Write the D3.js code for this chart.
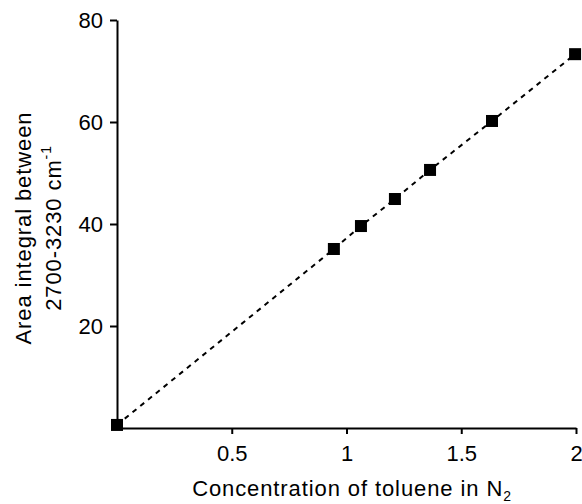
<!DOCTYPE html>
<html>
<head>
<meta charset="utf-8">
<script src="https://cdn.jsdelivr.net/npm/d3@7"></script>
<style>
  body { margin: 0; background: #fff; }
  svg { display: block; font-family: "Liberation Sans", Arial, sans-serif; }
</style>
</head>
<body>
<div class="chart"></div>
<script>
// toluene concentration vs. area integral
let conc = [0, 0.945, 1.063, 1.211, 1.364, 1.634, 1.996];
let area = [0.6, 35.1, 39.6, 44.9, 50.6, 60.2, 73.3];
let xTicks = [0.5, 1, 1.5, 2];
let yTicks = [20, 40, 60, 80];

let data = conc.map((c, i) => ({ x: c, y: area[i] }));

let width = 582, height = 504;
let margin = { top: 20, right: 6, bottom: 76, left: 117 };

let x = d3.scaleLinear().domain([0, 2]).range([margin.left, width - margin.right]);
let y = d3.scaleLinear().domain([0, 80]).range([height - margin.bottom, margin.top]);

let svg = d3.select(".chart").append("svg")
    .attr("width", width)
    .attr("height", height);

// dashed fit line
let line = d3.line().x(d => x(d.x)).y(d => y(d.y));
svg.append("path")
    .datum(data)
    .attr("d", line)
    .attr("fill", "none")
    .attr("stroke", "#000")
    .attr("stroke-width", 2)
    .attr("stroke-dasharray", "5,5");

let xAxis = svg.append("g")
    .attr("transform", "translate(0," + y(0) + ")")
    .call(d3.axisBottom(x).tickValues(xTicks).tickSize(6).tickPadding(11).tickFormat(d3.format("")).tickSizeOuter(0));

let yAxis = svg.append("g")
    .attr("transform", "translate(" + x(0) + ",0)")
    .call(d3.axisLeft(y).tickValues(yTicks).tickSize(7).tickPadding(7).tickSizeOuter(0));

[xAxis, yAxis].forEach(g => {
    g.select(".domain").attr("stroke-width", 2);
    g.selectAll(".tick line").attr("stroke-width", 2);
    g.selectAll(".tick text").attr("font-size", 22).attr("fill", "#000")
        .attr("font-family", "'Liberation Sans', Arial, sans-serif");
});

// markers
let s = 12;
svg.selectAll(".pt")
    .data(data)
    .enter().append("rect")
    .attr("class", "pt")
    .attr("x", d => x(d.x) - s / 2)
    .attr("y", d => y(d.y) - s / 2)
    .attr("width", s)
    .attr("height", s)
    .attr("fill", "#000");

// axis titles
let xt = svg.append("text")
    .attr("x", 352)
    .attr("y", 496)
    .attr("text-anchor", "middle")
    .attr("font-size", 22)
    .attr("letter-spacing", 0.9);
xt.append("tspan").text("Concentration of toluene in N");
xt.append("tspan").attr("font-size", 14).attr("dy", 5).text("2");

let yt = svg.append("text")
    .attr("transform", "translate(0,228) rotate(-90)")
    .attr("text-anchor", "middle")
    .attr("font-size", 22)
    .attr("letter-spacing", 0.9);
yt.append("tspan").attr("x", 0).attr("y", 31).text("Area integral between");
let l2 = yt.append("tspan").attr("x", 0).attr("y", 61);
l2.append("tspan").text("2700-3230 cm");
l2.append("tspan").attr("font-size", 14).attr("dy", -10).text("-1");
</script>
</body>
</html>
